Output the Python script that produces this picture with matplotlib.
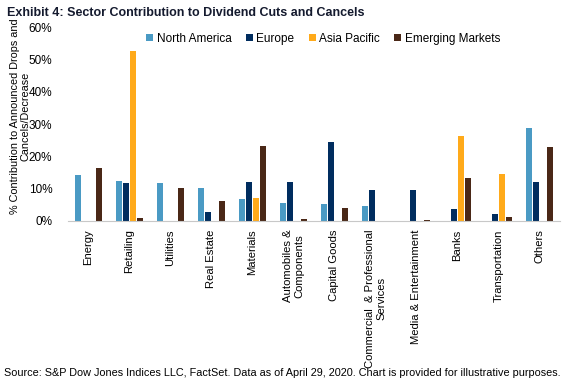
import numpy as np
import matplotlib.pyplot as plt

plt.rcParams['font.family'] = ['Liberation Sans', 'DejaVu Sans']

# data (in %)
sectors = ['Energy', 'Retailing', 'Utilities', 'Real Estate', 'Materials',
           'Automobiles &\nComponents', 'Capital Goods',
           'Commercial  & Professional\nServices', 'Media & Entertainment',
           'Banks', 'Transportation', 'Others']
north_america = [14.2, 12.4, 11.8, 10.2, 6.8, 5.6, 5.3, 4.7, 0, 0, 0, 28.8]
europe = [0, 11.8, 0, 2.8, 12.1, 12.1, 24.5, 9.6, 9.6, 3.7, 2.1, 12.1]
asia_pacific = [0, 52.6, 0, 0, 7.1, 0, 0, 0, 0, 26.3, 14.5, 0]
emerging = [16.5, 1.0, 10.2, 6.2, 23.2, 0.6, 4.1, 0, 0.3, 13.3, 1.1, 22.8]

series = ['North America', 'Europe', 'Asia Pacific', 'Emerging Markets']
colors = ['#4a9ac4', '#002d5f', '#ffaa1a', '#4a2817']

fig = plt.figure(figsize=(5.64, 3.84), dpi=100)
ax = fig.add_axes([0.12, 0.4245, 0.873, 0.505])

x = np.arange(len(sectors))
w = 0.15
step = 0.17
for i, (vals, name, c) in enumerate(zip([north_america, europe, asia_pacific, emerging], series, colors)):
    ax.bar(x + (i - 1.5) * step, vals, width=w, color=c, label=name)

ax.set_xlim(-0.5, len(sectors) - 0.5)
ax.set_ylim(0, 60)
ax.set_yticks(range(0, 61, 10))
ax.set_yticklabels([f'{t}%' for t in range(0, 61, 10)], fontsize=8.5)
ax.set_xticks(x)
ax.set_xticklabels(sectors, rotation=90, fontsize=8.1, va='top', ha='center', multialignment='center')
ax.tick_params(axis='x', length=0, pad=6)
ax.tick_params(axis='y', length=0, pad=11)

for s in ['top', 'right', 'left']:
    ax.spines[s].set_visible(False)
ax.spines['bottom'].set_color('#c8c8c8')

fig.text(0.036, 0.698, '% Contribution to Announced Drops and\nCancels/Decrease', fontsize=7.8,
         rotation=90, ha='center', va='center', multialignment='center', linespacing=1.0)

ax.legend(ncol=4, loc='upper right', bbox_to_anchor=(0.90, 1.025), frameon=False, fontsize=8.5,
          handlelength=0.6, handleheight=0.6, handletextpad=0.3, columnspacing=1.2)

fig.text(0.012, 0.966, 'Exhibit 4: Sector Contribution to Dividend Cuts and Cancels',
         fontsize=9, fontweight='bold', color='#141a2e', va='center')
fig.text(0.5, 0.028, 'Source: S&P Dow Jones Indices LLC, FactSet. Data as of April 29, 2020. Chart is provided for illustrative purposes.',
         fontsize=7.8, ha='center', va='center')

fig.savefig('out.png', dpi=100)
